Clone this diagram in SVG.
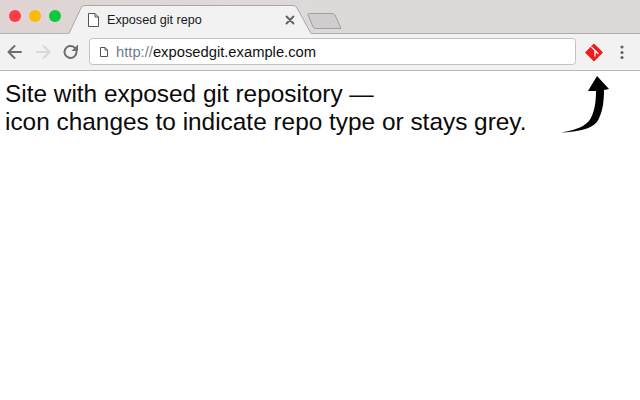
<svg xmlns="http://www.w3.org/2000/svg" width="640" height="400" viewBox="0 0 640 400">
<defs>
<linearGradient id="bar" x1="0" x2="1" y1="0" y2="0"><stop offset="0" stop-color="#dfd3d3"/><stop offset="0.35" stop-color="#dfd9d9"/><stop offset="1" stop-color="#dbd8d8"/></linearGradient>
</defs>
<style>
text{font-family:"Liberation Sans",Arial,sans-serif}
.cap{font-size:24.400px;fill:#0a0a0a}
.ic{fill:none;stroke-linecap:round;stroke-linejoin:round}
</style>
<rect width="640" height="400" fill="#fff"/>
<rect id="titlebar" width="640" height="34" fill="url(#bar)"/>
<rect id="toolbar" y="33" width="640" height="37" fill="#f2f2f2"/>
<line x1="0" x2="640" y1="70.5" y2="70.5" stroke="#b8b8b8"/>
<line x1="0" x2="69" y1="33.5" y2="33.5" stroke="#b5b0b0"/>
<line x1="311" x2="640" y1="33.5" y2="33.5" stroke="#b0adad"/>
<g id="window-controls">
<circle cx="15" cy="16" r="6" fill="#fc3d45"/>
<circle cx="35" cy="16" r="6" fill="#fdb909"/>
<circle cx="55" cy="16" r="6" fill="#0ec93c"/>
</g>
<g id="tab">
<path d="M69 34 L81 8 Q82 5.500 85 5.500 L293 5.500 Q296 5.500 297 8 L311 34 Z" fill="#f2f2f2"/>
<path d="M69 33.500 L81 8 Q82 5.500 85 5.500 L293 5.500 Q296 5.500 297 8 L311 33.500" fill="none" stroke="#a9a6a6"/>
<path d="M88.500 13.500h6.500l3.500 3.500v9.500h-10z M95 13.500v3.500h3.500" fill="#fff" stroke="#555" stroke-width="1"/>
<text x="107" y="24" font-size="12.650" fill="#1a1a1a">Exposed git repo</text>
<path d="M286.500 16.500l7 7m0-7l-7 7" class="ic" stroke="#5f5f5f" stroke-width="1.800"/>
</g>
<path id="new-tab" d="M308 14.500 Q308 13.500 310 13.500 L332 13.500 Q334 13.500 335 15 L341 28.500 L316 28.500 Q314 28.500 313 27 Z" fill="#cfcdcd" stroke="#a0a0a0"/>
<g id="nav-buttons">
<path d="M21 52H9m5.500-6L8.500 52l6 6" class="ic" stroke="#6e6e6e" stroke-width="2"/>
<path d="M37 52h12m-5.500-6l6 6-6 6" class="ic" stroke="#d8d8d8" stroke-width="2"/>
<path d="M76.500 52a6 6 0 1 1-2-4.500" class="ic" stroke="#6e6e6e" stroke-width="2"/>
<path d="M78 44.500v6.500h-6.500z" fill="#6e6e6e"/>
</g>
<g id="address-bar">
<rect x="89.500" y="38.500" width="486" height="26" rx="3" fill="#fff" stroke="#c2c2c2"/>
<path d="M100.500 47.500h4.500l2.500 2.500v6.500h-7z M105 47.500v2.500h2.500" fill="#fff" stroke="#555" stroke-width="1"/>
<text x="116" y="57" font-size="14.750"><tspan fill="#6f7c88">http://</tspan><tspan fill="#111">exposedgit.example.com</tspan></text>
</g>
<g id="git-icon">
<path d="M594 44.500 L602 52.500 L594 60.500 L586 52.500 Z" fill="#f01c1c" stroke="#f01c1c" stroke-width="1.500" stroke-linejoin="round"/>
<path d="M591.500 47l3.500 3.500v6m0-6l3.500 3.500" fill="none" stroke="#fff" stroke-width="1.300"/>
</g>
<g id="menu" fill="#666">
<circle cx="622" cy="47" r="1.600"/>
<circle cx="622" cy="52.500" r="1.600"/>
<circle cx="622" cy="57.500" r="1.600"/>
</g>
<g id="connectors">
<path d="M561 132.500 C572 130.500 582 128.500 589 121 C594 114 596 104 596 91 L588 91 L597 76 L609 89 L604 90 C604 104 602 114 597 122 C590 130 575 132 561 132.500 Z" fill="#000"/>
</g>
<g id="caption">
<text class="cap" x="5" y="101.500">Site with exposed git repository —</text>
<text class="cap" x="5" y="129.500">icon changes to indicate repo type or stays grey.</text>
</g>
</svg>
